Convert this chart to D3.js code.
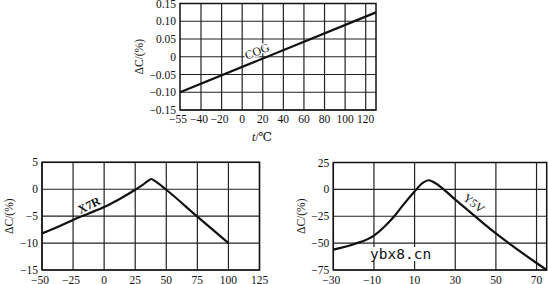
<!DOCTYPE html>
<html>
<head>
<meta charset="utf-8">
<script src="https://cdn.jsdelivr.net/npm/d3@7"></script>
<style>
  body { margin: 0; background: #fff; }
  svg { display: block; }
  text { font-family: "Liberation Serif", "DejaVu Serif", serif; fill: #111; }
</style>
</head>
<body>
<div id="chart"></div>
<script>
// C0G: top panel
const cogTemp = [-55, 130];
const cogDelta = [-0.10, 0.125];
const cogXTicks = [-55, -40, -20, 0, 20, 40, 60, 80, 100, 120];
const cogYTicks = [0.15, 0.10, 0.05, 0, -0.05, -0.10, -0.15];

// X7R: bottom left panel
const x7rTemp = [-50, -37.5, -25, -12.5, 0, 12.5, 25, 31, 35, 38, 41, 50, 75, 100];
const x7rDelta = [-8.2, -7.0, -5.7, -4.5, -3.3, -1.8, -0.1, 0.8, 1.5, 1.9, 1.5, -0.1, -5.1, -10];
const x7rXTicks = [-50, -25, 0, 25, 50, 75, 100, 125];
const x7rYTicks = [5, 0, -5, -10, -15];

// Y5V: bottom right panel
const y5vTemp = [-30, -20, -10, -5, 0, 5, 10, 14, 17, 20, 30, 50, 70, 75];
const y5vDelta = [-56, -51, -43, -35, -25, -13, -2, 6, 8.5, 6, -9.5, -41, -68.5, -75];
const y5vXTicks = [-30, -10, 10, 30, 50, 70];
const y5vYTicks = [25, 0, -25, -50, -75];

const width = 548, height = 284;
const svg = d3.select("#chart").append("svg")
    .attr("width", width)
    .attr("height", height);

const fmtMinus = s => s.replace("-", "\u2212");

function drawPanel(opt) {
    const x = opt.x, y = opt.y;
    const [x0, x1] = [x.range()[0], x.range()[x.range().length - 1]];
    const [y0, y1] = y.range();
    const g = svg.append("g");

    // grid lines
    g.selectAll(".vg").data(opt.xGrid).enter().append("line")
        .attr("x1", d => x(d)).attr("x2", d => x(d))
        .attr("y1", y0).attr("y2", y1)
        .attr("stroke", "#222").attr("stroke-width", 1.2);
    g.selectAll(".hg").data(opt.yTicks).enter().append("line")
        .attr("x1", x0).attr("x2", x1)
        .attr("y1", d => y(d)).attr("y2", d => y(d))
        .attr("stroke", "#222").attr("stroke-width", 1.2);

    // frame
    g.append("rect")
        .attr("x", x0).attr("y", y1)
        .attr("width", x1 - x0).attr("height", y0 - y1)
        .attr("fill", "none").attr("stroke", "#111").attr("stroke-width", 1.5);

    // tick labels
    g.selectAll(".yl").data(opt.yTicks).enter().append("text")
        .attr("x", x0 - 4).attr("y", d => y(d))
        .attr("dy", "0.35em")
        .attr("text-anchor", "end")
        .attr("font-size", 11.5)
        .text(d => fmtMinus(opt.yFmt(d)));
    g.selectAll(".xl").data(opt.xTicks).enter().append("text")
        .attr("x", d => x(d) + (d < 0 ? -2 : 0)).attr("y", opt.xLabelY)
        .attr("text-anchor", "middle")
        .attr("font-size", 11.5)
        .text(d => fmtMinus(String(d)));

    // y title
    g.append("text")
        .attr("transform", `translate(${opt.yTitleX},${(y0 + y1) / 2}) rotate(-90)`)
        .attr("text-anchor", "middle")
        .attr("dy", "0.35em")
        .attr("font-size", 11.5)
        .text("\u0394C/(%)");

    // curve
    const pts = opt.temp.map((t, i) => [t, opt.delta[i]]);
    g.append("path")
        .datum(pts)
        .attr("d", d3.line().x(d => x(d[0])).y(d => y(d[1])).curve(d3.curveMonotoneX))
        .attr("fill", "none").attr("stroke", "#111").attr("stroke-width", 2.2);

    // curve label, white halo hides the grid behind it
    g.append("text")
        .attr("transform", `translate(${opt.labelPos[0]},${opt.labelPos[1]}) rotate(${opt.labelRot})`)
        .attr("text-anchor", "middle")
        .attr("dy", "0.35em")
        .attr("font-size", 12)
        .attr("font-weight", opt.labelBold ? "bold" : "normal")
        .attr("stroke", "#fff").attr("stroke-width", 2.5)
        .attr("paint-order", "stroke")
        .text(opt.label);
    return g;
}

// top panel
const xCog = d3.scaleLinear().domain([-55, -40, 130]).range([180, 201, 376]);
const yCog = d3.scaleLinear().domain([-0.15, 0.15]).range([110, 3.5]);
drawPanel({
    x: xCog, y: yCog,
    xTicks: cogXTicks, xGrid: cogXTicks.slice(1),
    yTicks: cogYTicks,
    yFmt: d => d === 0 ? "0" : d.toFixed(2),
    xLabelY: 123, yTitleX: 139,
    temp: cogTemp, delta: cogDelta,
    label: "COG", labelPos: [257, 51], labelRot: -22
});
svg.append("text")
    .attr("x", 262).attr("y", 141)
    .attr("text-anchor", "middle")
    .attr("font-size", 12)
    .html('<tspan font-style="italic">t</tspan>/\u2103');

// bottom left panel
const xX7r = d3.scaleLinear().domain([-50, 125]).range([42, 259.5]);
const yX7r = d3.scaleLinear().domain([-15, 5]).range([270, 162.3]);
drawPanel({
    x: xX7r, y: yX7r,
    xTicks: x7rXTicks, xGrid: x7rXTicks,
    yTicks: x7rYTicks,
    yFmt: d => String(d),
    xLabelY: 284, yTitleX: 9,
    temp: x7rTemp, delta: x7rDelta,
    label: "X7R", labelPos: [89, 205], labelRot: -26, labelBold: true
});

// bottom right panel
const xY5v = d3.scaleLinear().domain([-30, 75]).range([333.3, 546.7]);
const yY5v = d3.scaleLinear().domain([-75, 25]).range([270, 162.5]);
drawPanel({
    x: xY5v, y: yY5v,
    xTicks: y5vXTicks, xGrid: y5vXTicks,
    yTicks: y5vYTicks,
    yFmt: d => String(d),
    xLabelY: 284, yTitleX: 301,
    temp: y5vTemp, delta: y5vDelta,
    label: "Y5V", labelPos: [474, 203], labelRot: 38
});

// watermark
const wm = svg.append("g");
wm.append("rect").attr("x", 368).attr("y", 247).attr("width", 66).attr("height", 14).attr("fill", "#fff");
wm.append("text")
    .attr("x", 370).attr("y", 259)
    .attr("font-size", 14.5)
    .style("font-family", "'DejaVu Sans Mono', monospace")
    .text("ybx8.cn");
</script>
</body>
</html>
